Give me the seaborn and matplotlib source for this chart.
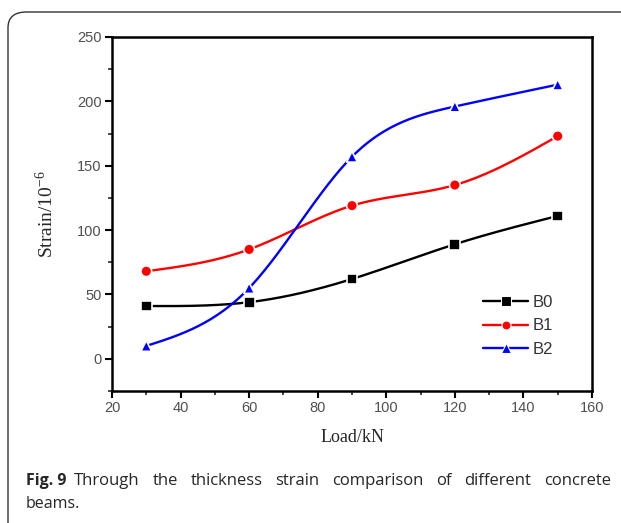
import numpy as np
import pandas as pd
import seaborn as sns
import matplotlib
matplotlib.use("Agg")
import matplotlib.pyplot as plt
from matplotlib.lines import Line2D
from matplotlib.patches import FancyBboxPatch
from matplotlib.ticker import MultipleLocator

# Data
load = [30, 60, 90, 120, 150]
b0 = [41, 44, 62, 89, 111]
b1 = [68, 85, 119, 135, 173]
b2 = [10, 55, 157, 196, 213]
series = ["B0", "B1", "B2"]
colors = {"B0": "black", "B1": "red", "B2": "blue"}
markers = {"B0": "s", "B1": "o", "B2": "^"}
caption_words = "Through the thickness strain comparison of different concrete".split()
caption_line2 = "beams."


def spline_curve(x, y, n=200):
    """Natural cubic spline through the points (for drawing the smooth line)."""
    x = np.asarray(x, float)
    y = np.asarray(y, float)
    k = len(x)
    h = np.diff(x)
    A = np.zeros((k, k))
    r = np.zeros(k)
    A[0, 0] = A[-1, -1] = 1
    for i in range(1, k - 1):
        A[i, i - 1] = h[i - 1]
        A[i, i] = 2 * (h[i - 1] + h[i])
        A[i, i + 1] = h[i]
        r[i] = 6 * ((y[i + 1] - y[i]) / h[i] - (y[i] - y[i - 1]) / h[i - 1])
    m = np.linalg.solve(A, r)
    xs = np.linspace(x[0], x[-1], n)
    idx = np.clip(np.searchsorted(x, xs) - 1, 0, k - 2)
    t0 = x[idx + 1] - xs
    t1 = xs - x[idx]
    hi = h[idx]
    ys = (m[idx] * t0**3 + m[idx + 1] * t1**3) / (6 * hi) \
        + (y[idx] / hi - m[idx] * hi / 6) * t0 \
        + (y[idx + 1] / hi - m[idx + 1] * hi / 6) * t1
    return xs, ys


df = pd.DataFrame({
    "load": load * 3,
    "strain": b0 + b1 + b2,
    "beam": ["B0"] * 5 + ["B1"] * 5 + ["B2"] * 5,
})

sns.set_style("white")
plt.rcParams["mathtext.fontset"] = "custom"
plt.rcParams["mathtext.rm"] = "Liberation Serif"
fig = plt.figure(figsize=(6.21, 5.23), dpi=100)
ax = fig.add_axes([112 / 621, 1 - 391 / 523, 480 / 621, 354 / 523])

for name, vals in zip(series, [b0, b1, b2]):
    xs, ys = spline_curve(load, vals)
    sns.lineplot(x=xs, y=ys, color=colors[name], lw=1.7, ax=ax,
                 estimator=None, sort=False)

sns.scatterplot(data=df, x="load", y="strain", hue="beam", style="beam",
                palette=colors, markers=markers, s=60, edgecolor="white",
                linewidth=1.2, ax=ax, legend=False, zorder=3)

ax.set_xlim(20, 160)
ax.set_ylim(-25, 250)
ax.xaxis.set_major_locator(MultipleLocator(20))
ax.xaxis.set_minor_locator(MultipleLocator(10))
ax.yaxis.set_major_locator(MultipleLocator(50))
ax.yaxis.set_minor_locator(MultipleLocator(25))
ax.tick_params(which="major", direction="out", length=5, width=1.5, pad=2.5,
               bottom=True, left=True, top=False, right=False,
               labelsize=10.5, labelcolor="#505050", color="black")
ax.tick_params(which="minor", direction="out", length=3, width=1.2,
               bottom=True, left=True, top=False, right=False)
for lab in ax.get_xticklabels() + ax.get_yticklabels():
    lab.set_family("Liberation Sans")
for sp in ax.spines.values():
    sp.set_linewidth(1.8)
    sp.set_color("black")

ax.set_xlabel("Load/kN", family="Liberation Serif", fontsize=13, labelpad=10)
ax.set_ylabel(r"Strain/10$^{\mathregular{-6}}$", family="Liberation Serif",
              fontsize=14, labelpad=14)

handles = [Line2D([0], [0], color=colors[n], marker=markers[n], lw=1.7,
                  markersize=6.5, markeredgecolor="white", markeredgewidth=0.8)
           for n in series]
leg = ax.legend(handles, series, loc="upper left",
                bbox_to_anchor=((483 - 112) / 480, (391 - 295) / 354),
                frameon=False, borderpad=0, borderaxespad=0,
                handlelength=2.7, handletextpad=0.3, labelspacing=0.5,
                prop={"family": "Liberation Sans", "size": 12})
for t in leg.get_texts():
    t.set_color("#333333")

# caption and rounded frame
frame = FancyBboxPatch((8 / 621, -0.05), 1.2, 1 - 12 / 523 + 0.05,
                       boxstyle="round,pad=0,rounding_size=0.03",
                       transform=fig.transFigure, fill=False,
                       edgecolor="#333333", lw=1.0, clip_on=False)
fig.patches.append(frame)
cap_font = "Open Sans"
cap_size = 12
y1 = 1 - 481 / 523
fig.text(26 / 621, y1, "Fig. 9", family=cap_font,
         fontweight="bold", fontsize=11.5, va="center", ha="left")

# first caption line is justified between x=74 and x=611 px
renderer = fig.canvas.get_renderer()
texts = [fig.text(0, y1, w, family=cap_font, fontsize=cap_size, va="center",
                  ha="left") for w in caption_words]
widths = [t.get_window_extent(renderer).width for t in texts]
gap = (611 - 74 - sum(widths)) / (len(texts) - 1)
xpos = 74
for t, w in zip(texts, widths):
    t.set_x(xpos / 621)
    xpos += w + gap

fig.text(26 / 621, 1 - 504 / 523, caption_line2, family=cap_font,
         fontsize=11.5, va="center", ha="left")

fig.savefig("out.png", dpi=100)
